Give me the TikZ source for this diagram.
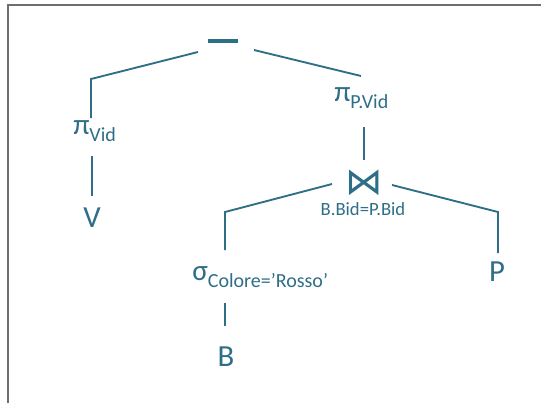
\documentclass[tikz,border=0pt]{standalone}
\usepackage{fontspec}
\setmainfont{Carlito}
\newfontfamily\symfont{DejaVu Sans}
\usetikzlibrary{positioning}
\definecolor{treeblue}{RGB}{47,110,135}
\definecolor{framegray}{RGB}{110,110,110}
\newcommand{\opsub}[2]{#1\raisebox{-5.5pt}{\fontsize{15}{17}\selectfont #2}}
\tikzset{
	op/.style={text=treeblue, font=\fontsize{22}{24}\selectfont, inner sep=0pt, anchor=base west},
	rel/.style={text=treeblue, font=\fontsize{23}{26}\selectfont, inner sep=0pt},
	cond/.style={text=treeblue, font=\fontsize{14}{16}\selectfont, inner sep=0pt},
	edge/.style={draw=treeblue, line width=1.4pt},
}

\begin{document}
\begin{tikzpicture}[x=0.75pt,y=-0.75pt]
	\useasboundingbox (0,0) rectangle (541,403);
	\draw[framegray, line width=1.5pt] (8,403) -- (8,5) -- (541,5);
	
	% nodes of the tree
	\node (diff) at (223,41) [rel] {\textcolor{treeblue}{\rule{22.5pt}{2.3pt}}};
	\node (piV) at (73,134) [op] {\opsub{π}{Vid}};
	\node (V) at (92,218) [rel] {V};
	\node (piPV) at (334,101) [op] {\opsub{π}{P.Vid}};
	\node (join) at (364,183) [rel, font=\symfont\fontsize{28}{30}\selectfont] {⋈};
	\node (jcond) at (363,209) [cond] {B.Bid=P.Bid};
	\node (sigma) at (192,280) [op] {\opsub{σ}{Colore=’Rosso’}};
	\node (P) at (497,272) [rel] {P};
	\node (B) at (226,357) [rel] {B};
	
	% bends
	\coordinate (kV) at (91,79);
	\coordinate (kS) at (225,212);
	\coordinate (kP) at (498,212);
	
	\draw[edge] ([shift={(-25,11)}]diff.center) -- (kV) -- ([shift={(18,-16)}]piV.base west);
	\draw[edge] ([shift={(19,22)}]piV.base west) -- ([shift={(0,-22)}]V.center);
	\draw[edge] ([shift={(31,9)}]diff.center) -- ([shift={(27,-25)}]piPV.base west);
	\draw[edge] ([shift={(30,26)}]piPV.base west) -- ([shift={(0,-23)}]join.center);
	\draw[edge] ([shift={(-32,1)}]join.center) -- (kS) -- ([shift={(33,-30)}]sigma.base west);
	\draw[edge] ([shift={(28,2)}]join.center) -- (kP) -- ([shift={(1,-19)}]P.center);
	\draw[edge] ([shift={(33,23)}]sigma.base west) -- ([shift={(-1,-31)}]B.center);
\end{tikzpicture}
\end{document}
